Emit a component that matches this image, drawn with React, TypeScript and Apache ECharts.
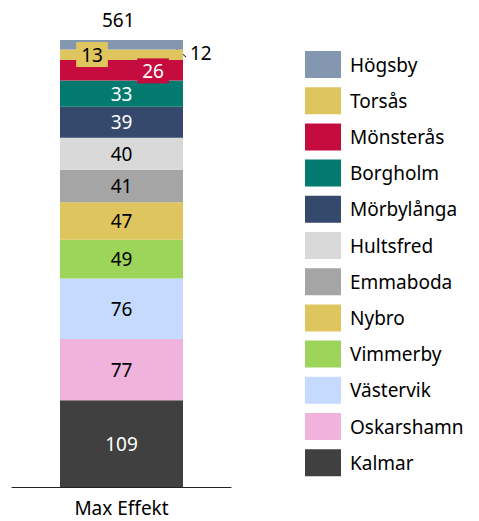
import React, { useEffect, useRef } from "react";
import * as echarts from "echarts";

const categories = ["Max Effekt"];
const seriesNames = ["Kalmar", "Oskarshamn", "Västervik", "Vimmerby", "Nybro", "Emmaboda", "Hultsfred", "Mörbylånga", "Borgholm", "Mönsterås", "Torsås", "Högsby"];
const seriesValues = [109, 77, 76, 49, 47, 41, 40, 39, 33, 26, 13, 12];
const seriesColors = ["#404040", "#F0B3DC", "#C6D9FE", "#9CD55A", "#DFC55E", "#A5A5A5", "#D9D9D9", "#34496B", "#037A6F", "#C60C3E", "#DFC55E", "#8497B0"];
const labelColors = ["#fff", "#000", "#000", "#000", "#000", "#000", "#000", "#fff", "#fff", "#fff", "#000", "#000"];
const totalLabel = "561";

const FONT = "Noto Sans";

export default function App() {
  const ref = useRef<HTMLDivElement>(null);
  useEffect(() => {
    const chart = echarts.init(ref.current!, null, { renderer: "svg" });
    const total = seriesValues.reduce((a, b) => a + b, 0);
    const series = seriesNames.map((name, i) => {
      const label: any = {
        show: true,
        color: labelColors[i],
        fontSize: 19,
        fontFamily: FONT,
        position: "inside",
      };
      if (name === "Torsås") {
        label.position = [32, 5];
        label.align = "center";
        label.verticalAlign = "middle";
        label.backgroundColor = seriesColors[i];
        label.padding = [4, 5, 2, 5];
      } else if (name === "Mönsterås") {
        label.position = [93, 11];
        label.align = "center";
        label.verticalAlign = "middle";
        label.backgroundColor = seriesColors[i];
        label.padding = [4, 5, 2, 5];
      } else if (name === "Högsby") {
        label.position = [130, 13];
        label.align = "left";
        label.verticalAlign = "middle";
      }
      return {
        name,
        type: "bar",
        stack: "total",
        barWidth: 123,
        data: [seriesValues[i]],
        itemStyle: { color: seriesColors[i] },
        label,
        emphasis: { disabled: true },
      };
    });
    chart.setOption({
      animation: false,
      textStyle: { fontFamily: FONT },
      grid: { left: 12, right: 248, top: 40, bottom: 34 },
      xAxis: {
        type: "category",
        data: categories,
        axisLine: { lineStyle: { color: "#222", width: 1 } },
        axisTick: { show: false },
        axisLabel: { color: "#000", fontSize: 19, fontFamily: FONT, margin: 11 },
      },
      yAxis: { type: "value", min: 0, max: total, show: false, splitLine: { show: false } },
      legend: {
        orient: "vertical",
        left: 305,
        top: 51,
        padding: 0,
        itemWidth: 36,
        itemHeight: 27,
        itemGap: 9.2,
        icon: "rect",
        data: [...seriesNames].reverse(),
        textStyle: { fontSize: 19, color: "#000", fontFamily: FONT, padding: [0, 0, 0, 4] },
      },
      graphic: [
        { type: "text", left: 102, top: 10, style: { text: totalLabel, fontSize: 19, fontFamily: FONT, fill: "#000" } },
        { type: "line", shape: { x1: 171, y1: 44, x2: 186, y2: 57 }, style: { stroke: "#000", lineWidth: 1 } },
      ],
      series,
    });
    return () => chart.dispose();
  }, []);
  return <div ref={ref} style={{ position: "absolute", left: 0, top: 0, width: 479, height: 521 }} />;
}
